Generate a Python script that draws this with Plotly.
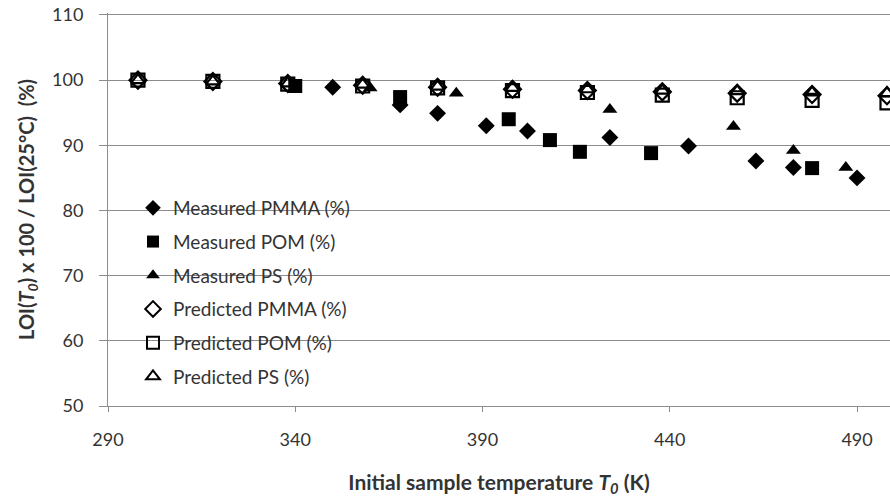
import plotly.graph_objects as go

# Measured data
pmma_meas_T = [350, 368, 378, 391, 402, 424, 445, 463, 473, 490]
pmma_meas_v = [98.9, 96.2, 94.9, 93.0, 92.2, 91.2, 89.9, 87.6, 86.6, 85.0]
pom_meas_T = [340, 368, 397, 408, 416, 435, 478]
pom_meas_v = [99.1, 97.4, 94.0, 90.8, 89.0, 88.8, 86.5]
ps_meas_T = [360, 383, 424, 457, 473, 487]
ps_meas_v = [98.8, 98.0, 95.5, 92.9, 89.2, 86.6]

# Predicted data
pred_T = [298, 318, 338, 358, 378, 398, 418, 438, 458, 478, 498]
pmma_pred_v = [100, 99.8, 99.5, 99.2, 98.9, 98.6, 98.4, 98.2, 98.0, 97.8, 97.6]
pom_pred_v = [100, 99.8, 99.4, 99.1, 98.8, 98.4, 98.1, 97.7, 97.3, 96.9, 96.5]
ps_pred_v = [100, 99.8, 99.5, 99.3, 99.0, 98.8, 98.6, 98.4, 98.3, 98.1, 98.0]

x_ticks = [290, 340, 390, 440, 490]
y_ticks = [50, 60, 70, 80, 90, 100, 110]

FONT = "Lato"
TXT = "#333333"
GRID = "#8c8c8c"

W, H = 890, 498
ML, MR, MT, MB = 108, 0, 13, 92
pw, ph = W - ML - MR, H - MT - MB

series = [
    ("Measured PMMA (%)", pmma_meas_T, pmma_meas_v, "diamond", 13),
    ("Measured POM (%)", pom_meas_T, pom_meas_v, "square", 14),
    ("Measured PS (%)", ps_meas_T, ps_meas_v, "triangle-up", 13),
    ("Predicted PMMA (%)", pred_T, pmma_pred_v, "diamond-open", 13),
    ("Predicted POM (%)", pred_T, pom_pred_v, "square-open", 13),
    ("Predicted PS (%)", pred_T, ps_pred_v, "triangle-up-open", 12),
]

fig = go.Figure()
for i, (name, xs, ys, sym, sz) in enumerate(series):
    fig.add_trace(go.Scatter(
        x=xs, y=ys, mode="markers", name=name, legendgroup=f"g{i}",
        marker=dict(symbol=sym, size=sz, color="black",
                    line=dict(color="black", width=2.2 if "open" in sym else 0)),
        cliponaxis=False,
    ))

def px2paper_x(px):  # page pixel -> paper
    return (px - ML) / pw

def px2paper_y(py):
    return 1 - (py - MT) / ph

# white box behind legend hiding gridlines
fig.add_shape(type="rect", xref="paper", yref="paper",
              x0=px2paper_x(128), x1=px2paper_x(385),
              y0=px2paper_y(394), y1=px2paper_y(193),
              fillcolor="white", line=dict(width=0), layer="between")

fig.update_layout(
    width=W, height=H,
    margin=dict(l=ML, r=MR, t=MT, b=MB, autoexpand=False),
    paper_bgcolor="white", plot_bgcolor="white",
    font=dict(family=FONT, size=18, color=TXT),
    showlegend=True,
    legend=dict(x=px2paper_x(133), y=px2paper_y(189), xanchor="left", yanchor="top",
                bgcolor="rgba(0,0,0,0)", font=dict(size=19, color=TXT),
                traceorder="grouped", tracegroupgap=6, itemsizing="constant"),
    xaxis=dict(range=[290, 498.8], tickvals=x_ticks, ticktext=[str(v) for v in x_ticks],
               automargin=False,
               showgrid=False, zeroline=False, showline=True, linecolor=GRID, linewidth=1,
               ticks="outside", ticklen=5, tickcolor=GRID, ticklabelstandoff=12,
               tickfont=dict(size=18, color=TXT),
               title=dict(text="<b>Initial sample temperature <i>T</i><sub><i>0</i></sub> (K)</b>",
                          font=dict(size=21, color=TXT), standoff=26)),
    yaxis=dict(range=[50, 110.3], tickvals=y_ticks, ticktext=[str(v) for v in y_ticks],
               automargin=False,
               showgrid=True, gridcolor=GRID, gridwidth=1, zeroline=False,
               showline=True, linecolor=GRID, linewidth=1,
               ticks="outside", ticklen=8, tickcolor=GRID, ticklabelstandoff=12,
               tickfont=dict(size=18, color=TXT),
               title=dict(text="<b>LOI(<i>T</i><sub><i>0</i></sub>) x 100 / LOI(25°C)  (%)</b>",
                          font=dict(size=20, color=TXT), standoff=12)),
)

fig.write_html("out.html", config={"displayModeBar": False},
               post_script="document.body.style.margin='0';document.body.style.padding='0';")
